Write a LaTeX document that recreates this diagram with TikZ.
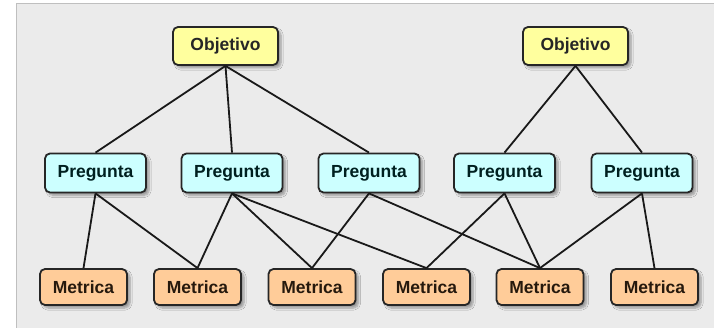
\documentclass[tikz,border=0pt]{standalone}
\usepackage{fontspec}
\setmainfont{Liberation Sans}
\usetikzlibrary{shadows.blur}
\definecolor{fondo}{HTML}{EBEBEB}
\definecolor{objFill}{HTML}{FFFF9E}
\definecolor{pregFill}{HTML}{CCFFFF}
\definecolor{metFill}{HTML}{FFCC99}

\begin{document}
\begin{tikzpicture}[x=1pt,y=-1pt]
            \tikzset{caja/.style={draw=black!85,line width=1.8pt,rounded corners=5pt,inner sep=0pt,
                       font=\fontsize{17.5}{20}\selectfont\bfseries,
                       blur shadow={shadow xshift=3pt,shadow yshift=-3pt,shadow blur steps=6,shadow opacity=35}},
                     objetivo/.style={caja,fill=objFill,text=black!85,minimum width=105pt,minimum height=38pt},
                     pregunta/.style={caja,fill=pregFill,text=black!75!teal,minimum width=101pt,minimum height=39pt},
                     metrica/.style={caja,fill=metFill,text=black!80!brown,minimum width=87pt,minimum height=36pt},
                     enlace/.style={line width=1.8pt,black!90}}
            \useasboundingbox (0,0) rectangle (714,328);
            \fill[white] (0,0) rectangle (714,328);
            \fill[fondo] (16,4) rectangle (714,328);
            \draw[black!25,line width=1pt] (16,328) -- (16,4) -- (714,4);
            % objetivos
            \node[objetivo] (obj1) at (225.5,46) {Objetivo};
            \node[objetivo] (obj2) at (575.5,46) {Objetivo};
            % preguntas
            \node[pregunta] (preg1) at (95.5,173) {Pregunta};
            \node[pregunta] (preg2) at (232,173) {Pregunta};
            \node[pregunta] (preg3) at (369,173) {Pregunta};
            \node[pregunta] (preg4) at (504.5,173) {Pregunta};
            \node[pregunta] (preg5) at (642,173) {Pregunta};
            % metricas
            \node[metrica] (met1) at (83.5,287) {Metrica};
            \node[metrica] (met2) at (197.5,287) {Metrica};
            \node[metrica] (met3) at (312,287) {Metrica};
            \node[metrica] (met4) at (426.5,287) {Metrica};
            \node[metrica] (met5) at (540,287) {Metrica};
            \node[metrica] (met6) at (654.5,287) {Metrica};
            \foreach \a/\b in {obj1/preg1,obj1/preg2,obj1/preg3,obj2/preg4,obj2/preg5,
                               preg1/met1,preg1/met2,preg2/met2,preg2/met3,preg2/met4,
                               preg3/met3,preg3/met5,preg4/met4,preg4/met5,preg5/met5,preg5/met6}
               \draw[enlace] (\a.south) -- (\b.north);
            \end{tikzpicture}
\end{document}
